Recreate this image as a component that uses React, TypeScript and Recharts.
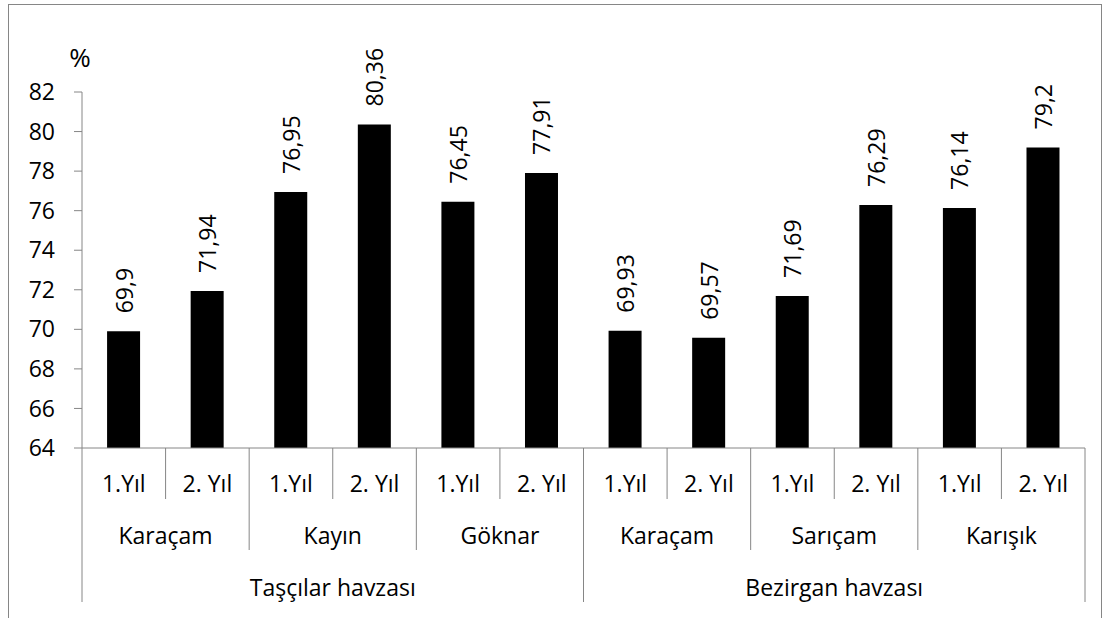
import React from 'react'
import { BarChart, Bar, XAxis, YAxis, LabelList, Label } from 'recharts'

const years = ['1.Yıl', '2. Yıl', '1.Yıl', '2. Yıl', '1.Yıl', '2. Yıl', '1.Yıl', '2. Yıl', '1.Yıl', '2. Yıl', '1.Yıl', '2. Yıl']
const species = ['Karaçam', 'Kayın', 'Göknar', 'Karaçam', 'Sarıçam', 'Karışık']
const basins = ['Taşçılar havzası', 'Bezirgan havzası']
const values = [69.9, 71.94, 76.95, 80.36, 76.45, 77.91, 69.93, 69.57, 71.69, 76.29, 76.14, 79.2]
const yTicks = [64, 66, 68, 70, 72, 74, 76, 78, 80, 82]

const data = values.map((v, i) => ({ id: i, year: years[i], value: v }))

const W = 1105
const H = 618
const margin = { top: 92, right: 20, bottom: 10, left: 22 }
const Y_AXIS_W = 60
const step = (W - margin.left - margin.right - Y_AXIS_W) / data.length

const FONT = '"Open Sans", Lato, sans-serif'
const FS = 23
const GRID = '#868686'

function MultiTick(props: any) {
  const { x, y, index } = props
  const left = x - step / 2
  const isGroup = index % 2 === 0
  const isBasin = index % 6 === 0
  const last = index === data.length - 1
  const lineLen = isBasin ? 154 : isGroup ? 102 : 51
  return (
    <g>
      <line x1={left} x2={left} y1={y} y2={y + lineLen} stroke={GRID} />
      {last && <line x1={x + step / 2} x2={x + step / 2} y1={y} y2={y + 154} stroke={GRID} />}
      <text x={x} y={y + 35} textAnchor="middle" dominantBaseline="central" fontFamily={FONT} fontSize={FS} fill="#000">
        {years[index]}
      </text>
      {isGroup && (
        <text x={x + step / 2} y={y + 87} textAnchor="middle" dominantBaseline="central" fontFamily={FONT} fontSize={FS} fill="#000">
          {species[index / 2]}
        </text>
      )}
      {isBasin && (
        <text x={x + step * 2.5} y={y + 139} textAnchor="middle" dominantBaseline="central" fontFamily={FONT} fontSize={FS} fill="#000">
          {basins[index / 6]}
        </text>
      )}
    </g>
  )
}

function ValueLabel(props: any) {
  const { x, y, width, value } = props
  const cx = x + width / 2
  const cy = y - 18
  return (
    <text
      x={cx}
      y={cy}
      transform={`rotate(-90, ${cx}, ${cy})`}
      textAnchor="start"
      dominantBaseline="central"
      fontFamily={FONT}
      fontSize={FS}
      fill="#000"
    >
      {String(value).replace('.', ',')}
    </text>
  )
}

export default function App() {
  return (
    <div style={{ position: 'absolute', left: 0, top: 0, width: W, height: H, background: '#fff' }}>
      <div
        style={{
          position: 'absolute',
          left: 8,
          top: 4,
          width: 1094,
          height: 614,
          boxSizing: 'border-box',
          border: `1px solid ${GRID}`,
          borderBottom: 'none',
        }}
      />
      <div style={{ position: 'absolute', left: 0, top: 0 }}>
        <BarChart width={W} height={H} data={data} margin={margin} barCategoryGap="30%">
          <XAxis
            dataKey="id"
            height={160}
            interval={0}
            tickLine={false}
            tickSize={0}
            tickMargin={0}
            axisLine={{ stroke: GRID }}
            tick={<MultiTick />}
          />
          <YAxis
            width={Y_AXIS_W}
            domain={[64, 82]}
            ticks={yTicks}
            interval={0}
            allowDataOverflow
            tickSize={8}
            tickMargin={19}
            axisLine={{ stroke: GRID }}
            tickLine={{ stroke: GRID }}
            tick={{ fontFamily: FONT, fontSize: FS, fill: '#000' }}
          >
            <Label
              content={(p: any) => (
                <text
                  x={p.viewBox.x + p.viewBox.width - 2}
                  y={p.viewBox.y - 35}
                  textAnchor="middle"
                  dominantBaseline="central"
                  fontFamily={FONT}
                  fontSize={26}
                  fill="#000"
                >
                  %
                </text>
              )}
            />
          </YAxis>
          <Bar dataKey="value" fill="#000" isAnimationActive={false}>
            <LabelList dataKey="value" content={<ValueLabel />} />
          </Bar>
        </BarChart>
      </div>
    </div>
  )
}
